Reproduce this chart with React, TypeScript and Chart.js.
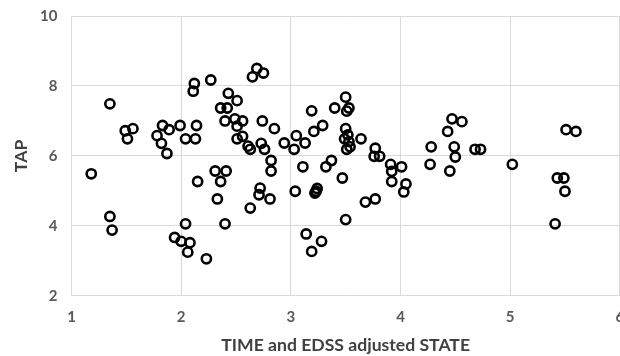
import React, { useEffect, useRef } from "react";
import { Chart, registerables } from "chart.js";

Chart.register(...registerables);

const xValues = [
  1.18, 1.35, 1.35, 1.37, 1.49, 1.51, 1.56, 1.78, 1.83, 1.82, 1.87, 1.89, 1.99, 2.04, 2.14, 2.13,
  2.12, 2.11, 2.27, 2.15, 2.04, 1.94, 2.0, 2.08, 2.06, 2.23, 2.31, 2.41, 2.36, 2.33, 2.4, 2.36,
  2.42, 2.43, 2.51, 2.4, 2.49, 2.51, 2.56, 2.51, 2.56, 2.61, 2.63, 2.65, 2.69, 2.75, 2.74, 2.73,
  2.76, 2.85, 2.82, 2.82, 2.72, 2.71, 2.81, 2.63, 2.94, 3.03, 3.05, 3.13, 3.11, 3.04, 3.19, 3.21,
  3.29, 3.37, 3.32, 3.23, 3.24, 3.22, 3.14, 3.19, 3.28, 3.4, 3.5, 3.53, 3.51, 3.5, 3.52, 3.49,
  3.53, 3.51, 3.54, 3.47, 3.5, 3.64, 3.77, 3.76, 3.81, 3.77, 3.68, 3.91, 3.92, 3.92, 4.01, 4.05,
  4.03, 4.28, 4.27, 4.43, 4.47, 4.56, 4.49, 4.5, 4.45, 4.68, 4.73, 5.02, 5.51, 5.6, 5.43, 5.49,
  5.5, 5.41,
];
const yValues = [
  5.49, 7.49, 4.27, 3.88, 6.72, 6.49, 6.78, 6.58, 6.87, 6.36, 6.07, 6.75, 6.87, 6.49, 6.87, 6.49,
  8.07, 7.85, 8.17, 5.27, 4.06, 3.67, 3.56, 3.52, 3.25, 3.06, 5.57, 5.57, 5.27, 4.77, 4.06, 7.37,
  7.37, 7.79, 7.58, 7.0, 7.06, 6.85, 7.0, 6.49, 6.56, 6.28, 6.19, 8.26, 8.5, 8.37, 7.0, 6.36,
  6.19, 6.78, 5.87, 5.57, 5.08, 4.89, 4.77, 4.51, 6.37, 6.19, 6.58, 6.37, 5.69, 4.99, 7.29, 6.7,
  6.87, 5.87, 5.69, 4.99, 5.07, 4.94, 3.77, 3.27, 3.56, 7.37, 7.68, 7.37, 7.28, 6.78, 6.6, 6.49,
  6.41, 6.19, 6.26, 5.37, 4.18, 6.49, 6.22, 5.99, 5.99, 4.77, 4.68, 5.76, 5.56, 5.27, 5.69, 5.2,
  4.97, 6.26, 5.76, 6.7, 7.06, 6.98, 6.26, 5.97, 5.57, 6.19, 6.19, 5.76, 6.75, 6.7, 5.37, 5.37,
  4.99, 4.06,
];

const xTitle = "TIME and EDSS adjusted STATE";
const yTitle = "TAP";

export default function App() {
  const ref = useRef<HTMLCanvasElement | null>(null);
  useEffect(() => {
    if (!ref.current) return;
    const font = "Lato, 'Open Sans', sans-serif";
    const chart = new Chart(ref.current, {
      type: "scatter",
      data: {
        datasets: [
          {
            data: xValues.map((x, i) => ({ x, y: yValues[i] })),
            pointRadius: 4.6,
            pointBorderWidth: 2.6,
            pointBorderColor: "#000000",
            pointBackgroundColor: "rgba(0,0,0,0)",
            pointStyle: "circle",
          },
        ],
      },
      options: {
        animation: false,
        responsive: false,
        layout: { padding: { left: 7, top: 0, right: 0, bottom: 0 } },
        plugins: { legend: { display: false }, tooltip: { enabled: false } },
        scales: {
          x: {
            type: "linear",
            min: 1,
            max: 6,
            ticks: {
              stepSize: 1,
              color: "#595959",
              padding: 0,
              font: { family: font, size: 15, weight: "bold" },
            },
            grid: {
              color: "#d9d9d9",
              lineWidth: 1,
              drawTicks: true,
              tickLength: 12,
              tickColor: "rgba(0,0,0,0)",
            },
            border: { display: false },
            title: {
              display: true,
              text: xTitle,
              color: "#404040",
              font: { family: font, size: 17.6, weight: "bold" },
              padding: { top: 9, bottom: 0 },
            },
          },
          y: {
            type: "linear",
            min: 2,
            max: 10,
            ticks: {
              stepSize: 2,
              color: "#595959",
              padding: 7,
              font: { family: font, size: 15, weight: "bold" },
            },
            grid: {
              color: "#d9d9d9",
              lineWidth: 1,
              drawTicks: true,
              tickLength: 7,
              tickColor: "rgba(0,0,0,0)",
            },
            border: { display: false },
            title: {
              display: true,
              text: yTitle,
              color: "#404040",
              font: { family: font, size: 17.6, weight: "bold" },
              padding: { top: 4, bottom: 1 },
            },
          },
        },
      },
    });
    return () => chart.destroy();
  }, []);
  return (
    <div
      style={{
        position: "fixed",
        left: 0,
        top: 0,
        width: 620,
        height: 356,
        overflow: "hidden",
        background: "#ffffff",
      }}
    >
      <canvas ref={ref} width={627} height={356} style={{ display: "block" }} />
    </div>
  );
}
